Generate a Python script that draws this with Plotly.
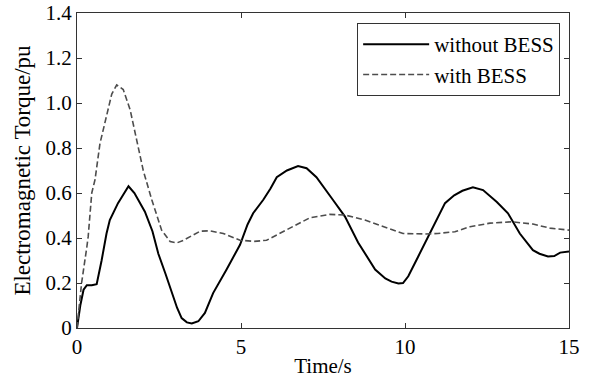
import plotly.graph_objects as go

# Time (s) and torque (pu)
t_without = [0, 0.1, 0.2, 0.3, 0.45, 0.6, 0.75, 0.9, 1.0, 1.15, 1.25, 1.4, 1.57, 1.75, 2.07, 2.3, 2.48, 2.7, 2.89,
             3.05, 3.19, 3.35, 3.5, 3.7, 3.9, 4.15, 4.56, 4.97, 5.2, 5.37, 5.68, 5.9, 6.09, 6.4, 6.74, 7.0,
             7.3, 7.56, 7.8, 8.17, 8.57, 9.09, 9.4, 9.59, 9.8, 9.94, 10.1, 10.4, 10.81, 11.22, 11.5, 11.75,
             12.07, 12.38, 12.8, 13.14, 13.5, 13.9, 14.1, 14.36, 14.55, 14.73, 15.0]
y_without = [0, 0.1, 0.17, 0.19, 0.19, 0.195, 0.30, 0.42, 0.48, 0.53, 0.555, 0.59, 0.63, 0.60, 0.517, 0.43, 0.33,
             0.24, 0.155, 0.09, 0.044, 0.025, 0.02, 0.03, 0.067, 0.155, 0.26, 0.37, 0.46, 0.51, 0.57, 0.62,
             0.67, 0.70, 0.72, 0.71, 0.67, 0.62, 0.57, 0.495, 0.38, 0.26, 0.22, 0.206, 0.198, 0.2, 0.23, 0.317,
             0.435, 0.555, 0.59, 0.61, 0.625, 0.613, 0.56, 0.51, 0.42, 0.346, 0.33, 0.318, 0.32, 0.335, 0.34]

t_with = [0, 0.14, 0.3, 0.34, 0.45, 0.55, 0.7, 0.9, 1.06, 1.21, 1.41, 1.62, 1.82, 2.02, 2.28, 2.58, 2.84, 3.04,
          3.25, 3.45, 3.75, 4.05, 4.46, 4.97, 5.4, 5.78, 6.39, 7.1, 7.7, 8.17, 8.78, 9.39, 9.94, 10.6, 11.0,
          11.52, 11.98, 12.59, 13.25, 13.9, 14.42, 15.0]
y_with = [0, 0.2, 0.36, 0.405, 0.6, 0.66, 0.82, 0.94, 1.04, 1.08, 1.06, 0.97, 0.835, 0.70, 0.57, 0.435, 0.384,
          0.378, 0.39, 0.405, 0.43, 0.432, 0.42, 0.39, 0.385, 0.39, 0.435, 0.49, 0.505, 0.502, 0.48, 0.45,
          0.42, 0.418, 0.42, 0.428, 0.45, 0.466, 0.472, 0.462, 0.444, 0.435]

x_ticks = [0, 5, 10, 15]
y_ticks = [0, 0.2, 0.4, 0.6, 0.8, 1.0, 1.2, 1.4]
y_ticktext = ["0", "0.2", "0.4", "0.6", "0.8", "1.0", "1.2", "1.4"]

FONT = "Liberation Serif"
FS = 21

fig = go.Figure()
fig.add_trace(go.Scatter(x=t_without, y=y_without, mode="lines", name="without BESS",
                         line=dict(color="black", width=2)))
fig.add_trace(go.Scatter(x=t_with, y=y_with, mode="lines", name="with BESS",
                         line=dict(color="#4d4d4d", width=1.6, dash="6px,3px")))

axis_common = dict(showline=True, linecolor="#333333", linewidth=1, mirror="ticks",
                   ticks="inside", ticklen=5, tickcolor="#333333", showgrid=False, zeroline=False,
                   automargin=False, tickfont=dict(family=FONT, size=FS, color="black"))

fig.update_layout(
    width=592, height=380,
    margin=dict(l=77, r=23, t=13, b=52),
    paper_bgcolor="white", plot_bgcolor="white",
    font=dict(family=FONT, size=FS, color="black"),
    xaxis=dict(range=[0, 15], tickvals=x_ticks,
               title=dict(text="Time/s", font=dict(family=FONT, size=FS), standoff=0), **axis_common),
    yaxis=dict(range=[0, 1.4], tickvals=y_ticks, ticktext=y_ticktext,
               title=dict(text="Electromagnetic Torque/pu", font=dict(family=FONT, size=23), standoff=8),
               **axis_common),
    legend=dict(x=0.982, y=0.968, xanchor="right", yanchor="top", bgcolor="white",
                bordercolor="#333333", borderwidth=1, font=dict(family=FONT, size=FS),
                tracegroupgap=0, itemwidth=66),
    showlegend=True,
)

fig.write_html("out.html")
